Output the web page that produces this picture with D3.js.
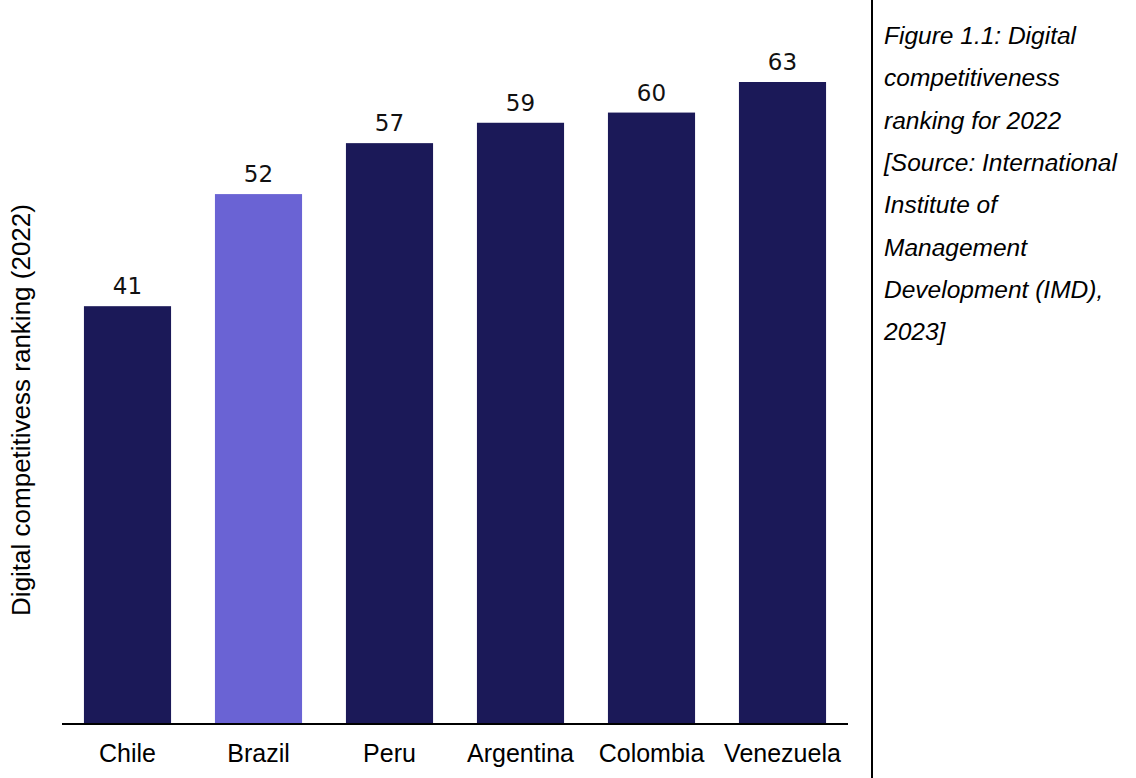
<!DOCTYPE html>
<html>
<head>
<meta charset="utf-8">
<script src="https://cdn.jsdelivr.net/npm/d3@7"></script>
<style>
html,body{margin:0;padding:0;background:#fff;}
svg{display:block;}
</style>
</head>
<body>
<svg id="chart" width="1136" height="778"></svg>
<script>
const countries = ["Chile", "Brazil", "Peru", "Argentina", "Colombia", "Venezuela"];
const rankings = [41, 52, 57, 59, 60, 63];
const highlighted = ["Brazil"];
const yAxisTitle = "Digital competitivess ranking (2022)";
const captionLines = [
  "Figure 1.1: Digital",
  "competitiveness",
  "ranking for 2022",
  "[Source: International",
  "Institute of",
  "Management",
  "Development (IMD),",
  "2023]"
];

const svg = d3.select("#chart");
const plot = {left: 62, right: 848, bottom: 724};

const x = d3.scaleBand().domain(countries).range([plot.left, plot.right]).paddingInner(0.335).paddingOuter(0.1675);
const y = d3.scaleLinear().domain([0, 63]).range([plot.bottom, 82]);

const data = countries.map((c, i) => ({country: c, value: rankings[i]}));

svg.append("g").selectAll("rect").data(data).join("rect")
  .attr("x", d => x(d.country))
  .attr("y", d => y(d.value))
  .attr("width", x.bandwidth())
  .attr("height", d => y(0) - y(d.value))
  .attr("fill", d => highlighted.includes(d.country) ? "#6a63d4" : "#1b1958");

svg.append("g").selectAll("text").data(data).join("text")
  .attr("x", d => x(d.country) + x.bandwidth() / 2)
  .attr("y", d => y(d.value) - 12)
  .attr("text-anchor", "middle")
  .attr("font-family", "DejaVu Sans")
  .attr("font-size", 23)
  .attr("fill", "#111")
  .text(d => d.value);

const xAxis = d3.axisBottom(x).tickSize(0).tickPadding(20);
const gx = svg.append("g").attr("transform", `translate(0,${plot.bottom})`).call(xAxis);
gx.select(".domain").attr("stroke", "#000").attr("stroke-width", 2).attr("d", `M${plot.left},0H${plot.right}`);
gx.selectAll("text").attr("font-family", "Liberation Sans").attr("font-size", 25).attr("fill", "#000").attr("dy", "0.71em");

svg.append("text")
  .attr("transform", `translate(30,410) rotate(-90)`)
  .attr("text-anchor", "middle")
  .attr("font-family", "Liberation Sans")
  .attr("font-size", 26)
  .attr("fill", "#000")
  .text(yAxisTitle);

svg.append("line").attr("x1", 872).attr("x2", 872).attr("y1", 0).attr("y2", 778)
  .attr("stroke", "#000").attr("stroke-width", 2);

svg.append("g").selectAll("text").data(captionLines).join("text")
  .attr("x", 884)
  .attr("y", (d, i) => 44 + i * 42.3)
  .attr("font-family", "Liberation Sans")
  .attr("font-style", "italic")
  .attr("font-size", 24.5)
  .attr("fill", "#000")
  .text(d => d);
</script>
</body>
</html>
